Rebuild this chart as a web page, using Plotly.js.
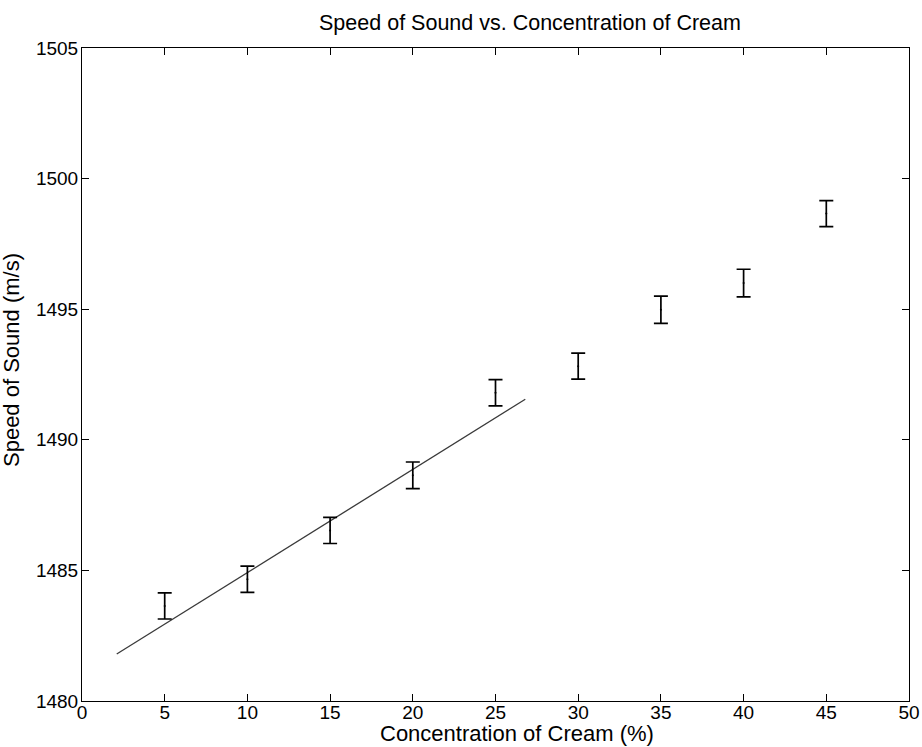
<!DOCTYPE html>
<html>
<head>
<meta charset="utf-8">
<script src="https://cdn.plot.ly/plotly-3.0.1.min.js"></script>
<style>
  html, body { margin: 0; padding: 0; background: #ffffff; }
  #chart { width: 922px; height: 747px; }
</style>
</head>
<body>
<div id="chart"></div>
<script>
// Concentration of cream (%)
var concentration = [5, 10, 15, 20, 25, 30, 35, 40, 45];
// Measured speed of sound (m/s)
var speed = [1483.64, 1484.66, 1486.53, 1488.64, 1491.80, 1492.82, 1494.98, 1496.00, 1498.66];
// Error bar half-widths (m/s)
var speedError = [0.50, 0.50, 0.50, 0.51, 0.50, 0.50, 0.52, 0.53, 0.50];
// Linear fit line end points
var fitX = [2.1, 26.8];
var fitY = [1481.80, 1491.55];
// Tick values
var xTicks = [0, 5, 10, 15, 20, 25, 30, 35, 40, 45, 50];
var yTicks = [1480, 1485, 1490, 1495, 1500, 1505];
// Texts
var chartTitle = 'Speed of Sound vs. Concentration of Cream';
var xTitle = 'Concentration of Cream (%)';
var yTitle = 'Speed of Sound (m/s)';

var fontFamily = '"Liberation Sans", Arial, Helvetica, sans-serif';

var traces = [
  {
    x: fitX,
    y: fitY,
    type: 'scatter',
    mode: 'lines',
    line: { color: '#3a3a3a', width: 1.3 },
    hoverinfo: 'skip',
    showlegend: false
  },
  {
    x: concentration,
    y: speed,
    type: 'scatter',
    mode: 'markers',
    marker: { color: '#000000', size: 2 },
    error_y: {
      type: 'data',
      array: speedError,
      visible: true,
      color: '#000000',
      thickness: 1.7,
      width: 7
    },
    showlegend: false
  }
];

var axisCommon = {
  showgrid: false,
  zeroline: false,
  showline: true,
  linecolor: '#000000',
  linewidth: 1,
  mirror: 'ticks',
  ticks: 'inside',
  ticklen: 7,
  tickwidth: 1,
  tickcolor: '#000000',
  automargin: false,
  tickfont: { family: fontFamily, size: 19, color: '#000000' }
};

var layout = {
  width: 922,
  height: 747,
  paper_bgcolor: '#ffffff',
  plot_bgcolor: '#ffffff',
  margin: { l: 82, r: 13, t: 48, b: 46 },
  showlegend: false,
  title: {
    text: chartTitle,
    font: { family: fontFamily, size: 21.5, color: '#000000' },
    x: 0.5417,
    xref: 'paper',
    xanchor: 'center',
    y: 1 - 22 / 747,
    yref: 'container',
    yanchor: 'middle'
  },
  xaxis: Object.assign({}, axisCommon, {
    range: [0, 50],
    tickvals: xTicks,
    ticktext: xTicks.map(String),
    ticklabelstandoff: -6
  }),
  yaxis: Object.assign({}, axisCommon, {
    range: [1480, 1505],
    tickvals: yTicks,
    ticktext: yTicks.map(String),
    ticklabelstandoff: -1
  }),
  annotations: [
    {
      text: xTitle,
      xref: 'paper', yref: 'paper',
      x: 0.526, y: -0.0505,
      xanchor: 'center', yanchor: 'middle',
      showarrow: false,
      font: { family: fontFamily, size: 22, color: '#000000' }
    },
    {
      text: yTitle,
      xref: 'paper', yref: 'paper',
      x: -0.086, y: 0.522,
      xanchor: 'center', yanchor: 'middle',
      textangle: -90,
      showarrow: false,
      font: { family: fontFamily, size: 22, color: '#000000' }
    }
  ]
};

Plotly.newPlot('chart', traces, layout, { displayModeBar: false, staticPlot: true });
</script>
</body>
</html>
